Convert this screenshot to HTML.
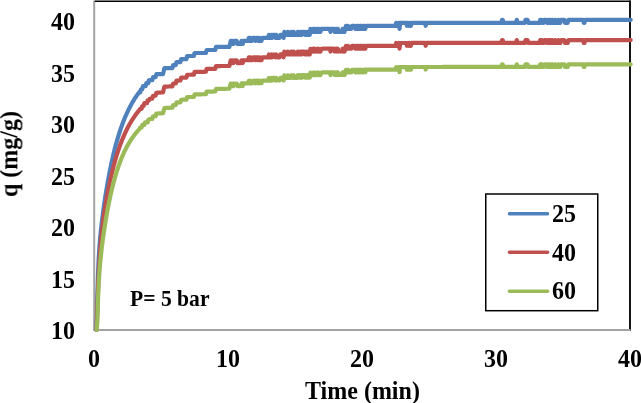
<!DOCTYPE html>
<html><head><meta charset="utf-8"><style>
html,body{margin:0;padding:0;background:#fff;}
body{width:641px;height:403px;position:relative;overflow:hidden;font-family:"Liberation Serif",serif;font-weight:bold;color:#000;}
.t{position:absolute;will-change:transform;transform:scaleY(1.05);transform-origin:0 70%;font-size:24px;line-height:24px;white-space:nowrap;}
.yl{position:absolute;will-change:transform;transform:scaleY(1.05);transform-origin:0 70%;right:566.5px;font-size:24px;line-height:24px;text-align:right;}
.xl{position:absolute;will-change:transform;transform:scaleY(1.05);transform-origin:0 70%;width:60px;margin-left:-30px;text-align:center;font-size:24px;line-height:24px;top:346.5px;}
svg{position:absolute;left:0;top:0;}
</style></head><body>
<svg width="641" height="403" viewBox="0 0 641 403">
<line x1="94.2" y1="0.5" x2="94.2" y2="330.5" stroke="#a3a3a3" stroke-width="2"/>
<line x1="94.8" y1="1.25" x2="630.5" y2="1.25" stroke="#000" stroke-width="1.5"/>
<line x1="630" y1="0.5" x2="630" y2="330.9" stroke="#151515" stroke-width="2"/>
<line x1="93.2" y1="329.9" x2="630.5" y2="329.9" stroke="#a3a3a3" stroke-width="2"/>
<g fill="none" stroke-width="4.2" stroke-linecap="round" stroke-linejoin="round">
<polyline stroke="#4F81BD" points="96.51,329.90 97.37,295.10 98.04,272.94 98.71,258.14 99.38,247.44 100.05,239.06 100.72,232.05 101.39,225.86 102.06,220.20 102.73,214.92 103.40,209.92 104.07,205.15 104.74,200.58 105.41,196.19 106.08,191.97 106.75,187.89 107.42,183.97 108.09,180.18 108.76,176.53 109.43,173.00 110.10,169.60 110.77,166.32 111.44,163.15 112.11,160.09 112.78,157.13 113.45,154.28 114.12,151.52 114.79,148.85 115.46,146.28 116.13,143.79 116.80,141.38 117.47,139.05 118.14,136.80 118.81,134.62 119.48,132.51 120.15,130.47 120.82,128.49 121.49,126.58 122.16,124.73 122.83,122.93 123.50,121.20 124.17,119.51 124.84,117.88 125.51,116.29 126.18,114.76 126.85,113.27 127.52,111.82 128.19,110.42 128.86,109.06 129.53,107.74 130.20,106.45 130.87,105.21 131.54,103.99 132.21,102.81 132.88,101.67 133.55,100.55 134.22,99.47 134.89,98.41 135.56,97.39 136.23,96.39 136.90,95.41 137.57,94.46 138.24,93.54 138.91,92.64 139.58,91.76 140.25,92.26 140.92,89.24 141.59,89.24 142.26,89.24 142.93,86.22 143.60,86.22 144.27,86.22 144.94,86.22 145.61,86.22 146.28,83.20 146.95,83.20 147.62,83.20 148.29,83.20 148.96,80.18 149.63,80.18 150.30,80.18 150.97,80.18 151.64,80.18 152.31,80.18 152.98,77.16 153.65,77.16 154.32,77.16 154.99,77.16 155.66,77.16 156.33,74.14 157.00,74.14 157.67,74.14 158.34,74.14 159.01,74.14 159.68,74.14 160.35,74.14 161.02,74.14 161.69,74.14 162.36,74.14 163.03,74.14 163.70,71.12 164.37,68.10 165.04,68.10 165.71,68.10 166.38,68.10 167.05,68.10 167.72,68.10 168.39,68.10 169.06,68.10 169.73,68.10 170.40,68.10 171.07,68.10 171.74,68.10 172.41,68.10 173.08,65.08 173.75,65.08 174.42,65.08 175.09,65.08 175.76,65.08 176.43,62.06 177.10,62.06 177.77,62.06 178.44,62.06 179.11,62.06 179.78,62.06 180.45,62.06 181.12,59.04 181.79,59.04 182.46,59.04 183.13,59.04 183.80,59.04 184.47,59.04 185.14,59.04 185.81,59.04 186.48,59.04 187.15,56.02 187.82,56.02 188.49,56.02 189.16,56.02 189.83,56.02 190.50,56.02 191.17,56.02 191.84,56.02 192.51,56.02 193.18,56.02 193.85,56.02 194.52,53.00 195.19,53.00 195.86,53.00 196.53,53.00 197.20,53.00 197.87,53.00 198.54,53.00 199.21,53.00 199.88,53.00 200.55,53.00 201.22,53.00 201.89,53.00 202.56,53.00 203.23,53.00 203.90,53.00 204.57,53.00 205.24,53.00 205.91,53.00 206.58,49.98 207.25,49.98 207.92,49.98 208.59,49.98 209.26,49.98 209.93,49.98 210.60,49.98 211.27,49.98 211.94,49.98 212.61,49.98 213.28,49.98 213.95,49.98 214.62,49.98 215.29,49.98 215.96,46.96 216.63,46.96 217.30,46.96 217.97,46.96 218.64,46.96 219.31,46.96 219.98,46.96 220.65,46.96 221.32,46.96 221.99,46.96 222.66,46.96 223.33,46.96 224.00,46.96 224.67,46.96 225.34,46.96 226.01,46.96 226.68,46.96 227.35,46.96 228.02,46.96 228.69,46.96 229.36,46.96 230.03,43.94 230.70,40.92 231.37,43.94 232.04,40.92 232.71,43.94 233.38,43.94 234.05,40.92 234.72,40.92 235.39,40.92 236.06,40.92 236.73,40.92 237.40,43.94 238.07,43.94 238.74,43.94 239.41,43.94 240.08,43.94 240.75,43.94 241.42,40.92 242.09,40.92 242.76,43.94 243.43,40.92 244.10,40.92 244.77,40.92 245.44,40.92 246.11,40.92 246.78,40.92 247.45,40.92 248.12,40.92 248.79,37.90 249.46,40.92 250.13,37.90 250.80,40.92 251.47,40.92 252.14,40.92 252.81,37.90 253.48,37.90 254.15,37.90 254.82,37.90 255.49,40.92 256.16,37.90 256.83,37.90 257.50,37.90 258.17,40.92 258.84,37.90 259.51,37.90 260.18,40.92 260.85,40.92 261.52,40.92 262.19,37.90 262.86,37.90 263.53,37.90 264.20,37.90 264.87,37.90 265.54,37.90 266.21,37.90 266.88,37.90 267.55,37.90 268.22,37.90 268.89,34.88 269.56,37.90 270.23,37.90 270.90,37.90 271.57,34.88 272.24,37.90 272.91,34.88 273.58,34.88 274.25,34.88 274.92,34.88 275.59,37.90 276.26,34.88 276.93,37.90 277.60,37.90 278.27,37.90 278.94,37.90 279.61,37.90 280.28,34.88 280.95,34.88 281.62,34.88 282.29,34.88 282.96,34.88 283.63,37.90 284.30,31.86 284.97,34.88 285.64,34.88 286.31,34.88 286.98,34.88 287.65,31.86 288.32,34.88 288.99,34.88 289.66,34.88 290.33,34.88 291.00,31.86 291.67,31.86 292.34,34.88 293.01,34.88 293.68,31.86 294.35,34.88 295.02,34.88 295.69,34.88 296.36,34.88 297.03,34.88 297.70,31.86 298.37,31.86 299.04,34.88 299.71,34.88 300.38,31.86 301.05,31.86 301.72,34.88 302.39,31.86 303.06,31.86 303.73,31.86 304.40,31.86 305.07,34.88 305.74,34.88 306.41,31.86 307.08,31.86 307.75,34.88 308.42,31.86 309.09,34.88 309.76,34.88 310.43,28.84 311.10,31.86 311.77,31.86 312.44,31.86 313.11,28.84 313.78,31.86 314.45,28.84 315.12,31.86 315.79,31.86 316.46,28.84 317.13,28.84 317.80,31.86 318.47,28.84 319.14,31.86 319.81,31.86 320.48,31.86 321.15,28.84 321.82,28.84 322.49,28.84 323.16,28.84 323.83,28.84 324.50,28.84 325.17,28.84 325.84,28.84 326.51,28.84 327.18,28.84 327.85,28.84 328.52,28.84 329.19,28.84 329.86,28.84 330.53,31.86 331.20,28.84 331.87,28.84 332.54,28.84 333.21,28.84 333.88,28.84 334.55,31.86 335.22,31.86 335.89,28.84 336.56,28.84 337.23,31.86 337.90,28.84 338.57,31.86 339.24,31.86 339.91,31.86 340.58,31.86 341.25,31.86 341.92,31.86 342.59,28.84 343.26,31.86 343.93,28.84 344.60,31.86 345.27,28.84 345.94,25.82 346.61,28.84 347.28,28.84 347.95,25.82 348.62,28.84 349.29,28.84 349.96,28.84 350.63,28.84 351.30,28.84 351.97,25.82 352.64,25.82 353.31,25.82 353.98,25.82 354.65,25.82 355.32,28.84 355.99,28.84 356.66,25.82 357.33,28.84 358.00,25.82 358.67,28.84 359.34,28.84 360.01,25.82 360.68,28.84 361.35,25.82 362.02,28.84 362.69,28.84 363.36,25.82 364.03,25.82 364.70,25.82 365.37,28.84 366.04,25.82 366.71,25.82 367.38,25.82 368.05,25.82 368.72,25.82 369.39,25.82 370.06,25.82 370.73,25.82 371.40,25.82 372.07,25.82 372.74,25.82 373.41,25.82 374.08,25.82 374.75,25.82 375.42,25.82 376.09,25.82 376.76,25.82 377.43,25.82 378.10,25.82 378.77,25.82 379.44,25.82 380.11,25.82 380.78,25.82 381.45,25.82 382.12,25.82 382.79,25.82 383.46,25.82 384.13,25.82 384.80,25.82 385.47,25.82 386.14,25.82 386.81,25.82 387.48,25.82 388.15,25.82 388.82,25.82 389.49,25.82 390.16,25.82 390.83,25.82 391.50,25.82 392.17,25.82 392.84,25.82 393.51,25.82 394.18,25.82 394.85,25.82 395.52,25.82 396.19,22.80 396.86,25.82 397.53,25.82 398.20,25.82 398.87,22.80 399.54,28.84 400.21,22.80 400.88,22.80 401.55,22.80 402.22,22.80 402.89,22.80 403.56,22.80 404.23,22.80 404.90,22.80 405.57,22.80 406.24,22.80 406.91,25.82 407.58,22.80 408.25,22.80 408.92,25.82 409.59,22.80 410.26,25.82 410.93,25.82 411.60,22.80 412.27,22.80 412.94,22.80 413.61,22.80 414.28,22.80 414.95,22.80 415.62,22.80 416.29,22.80 416.96,22.80 417.63,22.80 418.30,22.80 418.97,22.80 419.64,22.80 420.31,22.80 420.98,22.80 421.65,22.80 422.32,22.80 422.99,22.80 423.66,22.80 424.33,22.80 425.00,22.80 425.67,25.82 426.34,22.80 427.01,22.80 427.68,22.80 428.35,22.80 429.02,22.80 429.69,22.80 430.36,22.80 431.03,22.80 431.70,22.80 432.37,22.80 433.04,22.80 433.71,22.80 434.38,22.80 435.05,22.80 435.72,22.80 436.39,22.80 437.06,22.80 437.73,22.80 438.40,22.80 439.07,22.80 439.74,22.80 440.41,22.80 441.08,22.80 441.75,22.80 442.42,22.80 443.09,22.80 443.76,22.80 444.43,22.80 445.10,22.80 445.77,22.80 446.44,22.80 447.11,22.80 447.78,22.80 448.45,22.80 449.12,22.80 449.79,22.80 450.46,22.80 451.13,22.80 451.80,22.80 452.47,22.80 453.14,22.80 453.81,22.80 454.48,22.80 455.15,22.80 455.82,22.80 456.49,22.80 457.16,22.80 457.83,22.80 458.50,22.80 459.17,22.80 459.84,22.80 460.51,22.80 461.18,22.80 461.85,22.80 462.52,22.80 463.19,22.80 463.86,22.80 464.53,22.80 465.20,22.80 465.87,22.80 466.54,22.80 467.21,22.80 467.88,22.80 468.55,22.80 469.22,22.80 469.89,22.80 470.56,22.80 471.23,22.80 471.90,22.80 472.57,22.80 473.24,22.80 473.91,22.80 474.58,22.80 475.25,22.80 475.92,22.80 476.59,22.80 477.26,22.80 477.93,22.80 478.60,22.80 479.27,22.80 479.94,22.80 480.61,22.80 481.28,22.80 481.95,22.80 482.62,22.80 483.29,22.80 483.96,22.80 484.63,22.80 485.30,22.80 485.97,22.80 486.64,22.80 487.31,22.80 487.98,22.80 488.65,22.80 489.32,22.80 489.99,22.80 490.66,22.80 491.33,22.80 492.00,22.80 492.67,22.80 493.34,22.80 494.01,22.80 494.68,22.80 495.35,22.80 496.02,22.80 496.69,22.80 497.36,22.80 498.03,22.80 498.70,22.80 499.37,22.80 500.04,22.80 500.71,22.80 501.38,22.80 502.05,19.78 502.72,19.78 503.39,22.80 504.06,22.80 504.73,22.80 505.40,22.80 506.07,22.80 506.74,22.80 507.41,22.80 508.08,22.80 508.75,22.80 509.42,22.80 510.09,22.80 510.76,22.80 511.43,22.80 512.10,22.80 512.77,22.80 513.44,22.80 514.11,22.80 514.78,22.80 515.45,22.80 516.12,22.80 516.79,19.78 517.46,22.80 518.13,22.80 518.80,22.80 519.47,22.80 520.14,22.80 520.81,22.80 521.48,22.80 522.15,22.80 522.82,22.80 523.49,22.80 524.16,22.80 524.83,22.80 525.50,19.78 526.17,19.78 526.84,19.78 527.51,19.78 528.18,22.80 528.85,22.80 529.52,22.80 530.19,22.80 530.86,22.80 531.53,22.80 532.20,22.80 532.87,22.80 533.54,22.80 534.21,22.80 534.88,22.80 535.55,22.80 536.22,22.80 536.89,22.80 537.56,22.80 538.23,22.80 538.90,22.80 539.57,22.80 540.24,19.78 540.91,22.80 541.58,19.78 542.25,22.80 542.92,22.80 543.59,22.80 544.26,19.78 544.93,19.78 545.60,19.78 546.27,19.78 546.94,22.80 547.61,22.80 548.28,19.78 548.95,22.80 549.62,22.80 550.29,19.78 550.96,22.80 551.63,22.80 552.30,19.78 552.97,22.80 553.64,22.80 554.31,22.80 554.98,19.78 555.65,22.80 556.32,22.80 556.99,22.80 557.66,22.80 558.33,19.78 559.00,22.80 559.67,22.80 560.34,22.80 561.01,19.78 561.68,19.78 562.35,19.78 563.02,19.78 563.69,19.78 564.36,19.78 565.03,22.80 565.70,22.80 566.37,22.80 567.04,22.80 567.71,22.80 568.38,19.78 569.05,19.78 569.72,19.78 570.39,19.78 571.06,19.78 571.73,19.78 572.40,19.78 573.07,19.78 573.74,19.78 574.41,19.78 575.08,19.78 575.75,19.78 576.42,19.78 577.09,19.78 577.76,19.78 578.43,19.78 579.10,19.78 579.77,19.78 580.44,19.78 581.11,19.78 581.78,19.78 582.45,19.78 583.12,19.78 583.79,22.80 584.46,22.80 585.13,19.78 585.80,19.78 586.47,19.78 587.14,19.78 587.81,19.78 588.48,19.78 589.15,19.78 589.82,19.78 590.49,19.78 591.16,19.78 591.83,19.78 592.50,19.78 593.17,19.78 593.84,19.78 594.51,19.78 595.18,19.78 595.85,19.78 596.52,19.78 597.19,19.78 597.86,19.78 598.53,19.78 599.20,19.78 599.87,19.78 600.54,19.78 601.21,19.78 601.88,19.78 602.55,19.78 603.22,19.78 603.89,19.78 604.56,19.78 605.23,19.78 605.90,19.78 606.57,19.78 607.24,19.78 607.91,19.78 608.58,19.78 609.25,19.78 609.92,19.78 610.59,19.78 611.26,19.78 611.93,19.78 612.60,19.78 613.27,19.78 613.94,19.78 614.61,19.78 615.28,19.78 615.95,19.78 616.62,19.78 617.29,19.78 617.96,19.78 618.63,19.78 619.30,19.78 619.97,19.78 620.64,19.78 621.31,19.78 621.98,19.78 622.65,19.78 623.32,19.78 623.99,19.78 624.66,19.78 625.33,19.78 626.00,19.78 626.67,19.78 627.34,19.78 628.01,19.78 628.68,19.78 629.35,19.78 630.02,19.78 630.69,19.78"/>
<polyline stroke="#C0504D" points="96.56,329.90 97.37,307.91 98.04,288.98 98.71,274.06 99.38,262.03 100.05,252.11 100.72,243.73 101.39,236.49 102.06,230.11 102.73,224.37 103.40,219.13 104.07,214.30 104.74,209.78 105.41,205.53 106.08,201.51 106.75,197.67 107.42,194.01 108.09,190.51 108.76,187.14 109.43,183.90 110.10,180.78 110.77,177.78 111.44,174.88 112.11,172.09 112.78,169.39 113.45,166.79 114.12,164.27 114.79,161.84 115.46,159.48 116.13,157.21 116.80,155.01 117.47,152.89 118.14,150.83 118.81,148.85 119.48,146.92 120.15,145.06 120.82,143.26 121.49,141.51 122.16,139.82 122.83,138.19 123.50,136.60 124.17,135.07 124.84,133.58 125.51,132.14 126.18,130.74 126.85,129.38 127.52,128.07 128.19,126.79 128.86,125.55 129.53,124.35 130.20,123.18 130.87,122.05 131.54,120.95 132.21,119.87 132.88,118.83 133.55,117.82 134.22,116.83 134.89,115.87 135.56,114.93 136.23,114.02 136.90,113.13 137.57,112.26 138.24,111.42 138.91,110.59 139.58,109.78 140.25,108.77 140.92,108.78 141.59,108.80 142.26,105.98 142.93,105.99 143.60,106.00 144.27,103.18 144.94,103.18 145.61,103.18 146.28,103.18 146.95,103.17 147.62,100.34 148.29,100.33 148.96,100.32 149.63,98.73 150.30,98.70 150.97,98.68 151.64,98.65 152.31,98.61 152.98,95.77 153.65,95.74 154.32,95.70 154.99,95.66 155.66,95.63 156.33,92.78 157.00,92.74 157.67,92.70 158.34,92.66 159.01,92.62 159.68,92.58 160.35,92.54 161.02,92.50 161.69,92.47 162.36,92.43 163.03,92.39 163.70,89.54 164.37,86.70 165.04,86.66 165.71,86.63 166.38,86.59 167.05,86.56 167.72,86.53 168.39,86.50 169.06,86.47 169.73,86.44 170.40,86.42 171.07,86.39 171.74,86.37 172.41,86.34 173.08,83.51 173.75,83.49 174.42,83.47 175.09,83.45 175.76,83.43 176.43,80.60 177.10,80.58 177.77,80.56 178.44,80.55 179.11,80.53 179.78,80.52 180.45,80.51 181.12,77.68 181.79,77.67 182.46,77.66 183.13,77.65 183.80,77.63 184.47,77.62 185.14,77.61 185.81,77.60 186.48,77.59 187.15,74.77 187.82,74.76 188.49,74.75 189.16,74.75 189.83,74.74 190.50,74.73 191.17,74.72 191.84,74.71 192.51,74.71 193.18,74.70 193.85,74.69 194.52,71.87 195.19,71.87 195.86,71.86 196.53,71.85 197.20,71.85 197.87,71.84 198.54,71.83 199.21,71.83 199.88,71.82 200.55,71.81 201.22,71.81 201.89,71.80 202.56,71.80 203.23,71.79 203.90,71.78 204.57,71.78 205.24,71.77 205.91,71.77 206.58,68.95 207.25,68.94 207.92,68.94 208.59,68.93 209.26,68.92 209.93,68.92 210.60,68.91 211.27,68.91 211.94,68.90 212.61,68.90 213.28,68.89 213.95,68.89 214.62,68.88 215.29,68.88 215.96,66.06 216.63,66.05 217.30,66.05 217.97,66.04 218.64,66.04 219.31,66.03 219.98,66.03 220.65,66.03 221.32,66.02 221.99,66.02 222.66,66.01 223.33,66.01 224.00,66.00 224.67,66.00 225.34,66.00 226.01,65.99 226.68,65.99 227.35,65.98 228.02,65.98 228.69,65.97 229.36,65.97 230.03,63.15 230.70,60.33 231.37,63.14 232.04,60.32 232.71,63.13 233.38,63.13 234.05,60.31 234.72,60.31 235.39,60.30 236.06,60.30 236.73,60.29 237.40,63.11 238.07,63.10 238.74,63.10 239.41,63.10 240.08,63.09 240.75,63.09 241.42,60.27 242.09,60.27 242.76,63.08 243.43,60.26 244.10,60.26 244.77,60.25 245.44,60.25 246.11,60.25 246.78,60.24 247.45,60.24 248.12,60.24 248.79,57.41 249.46,60.23 250.13,57.41 250.80,60.22 251.47,60.22 252.14,60.22 252.81,57.40 253.48,57.39 254.15,57.39 254.82,57.39 255.49,60.20 256.16,57.38 256.83,57.38 257.50,57.38 258.17,60.19 258.84,57.37 259.51,57.37 260.18,60.18 260.85,60.18 261.52,60.18 262.19,57.36 262.86,57.35 263.53,57.35 264.20,57.35 264.87,57.35 265.54,57.34 266.21,57.34 266.88,57.34 267.55,57.34 268.22,57.33 268.89,54.51 269.56,57.33 270.23,57.33 270.90,57.32 271.57,54.50 272.24,57.32 272.91,54.50 273.58,54.49 274.25,54.49 274.92,54.49 275.59,57.31 276.26,54.49 276.93,57.30 277.60,57.30 278.27,57.30 278.94,57.30 279.61,57.29 280.28,54.47 280.95,54.47 281.62,54.47 282.29,54.47 282.96,54.46 283.63,57.28 284.30,51.64 284.97,54.46 285.64,54.46 286.31,54.45 286.98,54.45 287.65,51.63 288.32,54.45 288.99,54.45 289.66,54.44 290.33,54.44 291.00,51.62 291.67,51.62 292.34,54.44 293.01,54.43 293.68,51.61 294.35,54.43 295.02,54.43 295.69,54.43 296.36,54.43 297.03,54.42 297.70,51.60 298.37,51.60 299.04,54.42 299.71,54.42 300.38,51.60 301.05,51.59 301.72,54.41 302.39,51.59 303.06,51.59 303.73,51.59 304.40,51.59 305.07,54.40 305.74,54.40 306.41,51.58 307.08,51.58 307.75,54.40 308.42,51.58 309.09,54.39 309.76,54.39 310.43,48.75 311.10,51.57 311.77,51.57 312.44,51.57 313.11,48.74 313.78,51.56 314.45,48.74 315.12,51.56 315.79,51.56 316.46,48.74 317.13,48.74 317.80,51.56 318.47,48.73 319.14,51.55 319.81,51.55 320.48,51.55 321.15,48.73 321.82,48.73 322.49,48.73 323.16,48.72 323.83,48.72 324.50,48.72 325.17,48.72 325.84,48.72 326.51,48.72 327.18,48.72 327.85,48.71 328.52,48.71 329.19,48.71 329.86,48.71 330.53,51.53 331.20,48.71 331.87,48.71 332.54,48.71 333.21,48.71 333.88,48.70 334.55,51.52 335.22,51.52 335.89,48.70 336.56,48.70 337.23,51.52 337.90,48.70 338.57,51.52 339.24,51.52 339.91,51.51 340.58,51.51 341.25,51.51 341.92,51.51 342.59,48.69 343.26,51.51 343.93,48.69 344.60,51.51 345.27,48.69 345.94,45.86 346.61,48.68 347.28,48.68 347.95,45.86 348.62,48.68 349.29,48.68 349.96,48.68 350.63,48.68 351.30,48.68 351.97,45.85 352.64,45.85 353.31,45.85 353.98,45.85 354.65,45.85 355.32,48.67 355.99,48.67 356.66,45.85 357.33,48.67 358.00,45.85 358.67,48.67 359.34,48.67 360.01,45.84 360.68,48.66 361.35,45.84 362.02,48.66 362.69,48.66 363.36,45.84 364.03,45.84 364.70,45.84 365.37,48.66 366.04,45.84 366.71,45.84 367.38,45.83 368.05,45.83 368.72,45.83 369.39,45.83 370.06,45.83 370.73,45.83 371.40,45.83 372.07,45.83 372.74,45.83 373.41,45.83 374.08,45.83 374.75,45.83 375.42,45.83 376.09,45.83 376.76,45.82 377.43,45.82 378.10,45.82 378.77,45.82 379.44,45.82 380.11,45.82 380.78,45.82 381.45,45.82 382.12,45.82 382.79,45.82 383.46,45.82 384.13,45.82 384.80,45.82 385.47,45.82 386.14,45.81 386.81,45.81 387.48,45.81 388.15,45.81 388.82,45.81 389.49,45.81 390.16,45.81 390.83,45.81 391.50,45.81 392.17,45.81 392.84,45.81 393.51,45.81 394.18,45.81 394.85,45.81 395.52,45.81 396.19,42.98 396.86,45.81 397.53,45.80 398.20,45.80 398.87,42.98 399.54,48.62 400.21,42.98 400.88,42.98 401.55,42.98 402.22,42.98 402.89,42.98 403.56,42.98 404.23,42.98 404.90,42.98 405.57,42.98 406.24,42.98 406.91,45.80 407.58,42.98 408.25,42.97 408.92,45.80 409.59,42.97 410.26,45.79 410.93,45.79 411.60,42.97 412.27,42.97 412.94,42.97 413.61,42.97 414.28,42.97 414.95,42.97 415.62,42.97 416.29,42.97 416.96,42.97 417.63,42.97 418.30,42.97 418.97,42.97 419.64,42.97 420.31,42.97 420.98,42.97 421.65,42.97 422.32,42.97 422.99,42.96 423.66,42.96 424.33,42.96 425.00,42.96 425.67,45.78 426.34,42.96 427.01,42.96 427.68,42.96 428.35,42.96 429.02,42.96 429.69,42.96 430.36,42.96 431.03,42.96 431.70,42.96 432.37,42.96 433.04,42.96 433.71,42.96 434.38,42.96 435.05,42.96 435.72,42.96 436.39,42.96 437.06,42.96 437.73,42.96 438.40,42.96 439.07,42.96 439.74,42.96 440.41,42.95 441.08,42.95 441.75,42.95 442.42,42.95 443.09,42.95 443.76,42.95 444.43,42.95 445.10,42.95 445.77,42.95 446.44,42.95 447.11,42.95 447.78,42.95 448.45,42.95 449.12,42.95 449.79,42.95 450.46,42.95 451.13,42.95 451.80,42.95 452.47,42.95 453.14,42.95 453.81,42.95 454.48,42.95 455.15,42.95 455.82,42.95 456.49,42.95 457.16,42.95 457.83,42.95 458.50,42.95 459.17,42.95 459.84,42.95 460.51,42.95 461.18,42.95 461.85,42.94 462.52,42.94 463.19,42.94 463.86,42.94 464.53,42.94 465.20,42.94 465.87,42.94 466.54,42.94 467.21,42.94 467.88,42.94 468.55,42.94 469.22,42.94 469.89,42.94 470.56,42.94 471.23,42.94 471.90,42.94 472.57,42.94 473.24,42.94 473.91,42.94 474.58,42.94 475.25,42.94 475.92,42.94 476.59,42.94 477.26,42.94 477.93,42.94 478.60,42.94 479.27,42.94 479.94,42.94 480.61,42.94 481.28,42.94 481.95,42.94 482.62,42.94 483.29,42.94 483.96,42.94 484.63,42.94 485.30,42.94 485.97,42.94 486.64,42.94 487.31,42.94 487.98,42.94 488.65,42.94 489.32,42.94 489.99,42.94 490.66,42.94 491.33,42.93 492.00,42.93 492.67,42.93 493.34,42.93 494.01,42.93 494.68,42.93 495.35,42.93 496.02,42.93 496.69,42.93 497.36,42.93 498.03,42.93 498.70,42.93 499.37,42.93 500.04,42.93 500.71,42.93 501.38,42.93 502.05,40.11 502.72,40.11 503.39,42.93 504.06,42.93 504.73,42.93 505.40,42.93 506.07,42.93 506.74,42.93 507.41,42.93 508.08,42.93 508.75,42.93 509.42,42.93 510.09,42.93 510.76,42.93 511.43,42.93 512.10,42.93 512.77,42.93 513.44,42.93 514.11,42.93 514.78,42.93 515.45,42.93 516.12,42.93 516.79,40.11 517.46,42.93 518.13,42.93 518.80,42.93 519.47,42.93 520.14,42.93 520.81,42.93 521.48,42.93 522.15,42.93 522.82,42.93 523.49,42.93 524.16,42.93 524.83,42.93 525.50,40.10 526.17,40.10 526.84,40.10 527.51,40.10 528.18,42.93 528.85,42.93 529.52,42.93 530.19,42.93 530.86,42.93 531.53,42.93 532.20,42.93 532.87,42.93 533.54,42.93 534.21,42.93 534.88,42.93 535.55,42.92 536.22,42.92 536.89,42.92 537.56,42.92 538.23,42.92 538.90,42.92 539.57,42.92 540.24,40.10 540.91,42.92 541.58,40.10 542.25,42.92 542.92,42.92 543.59,42.92 544.26,40.10 544.93,40.10 545.60,40.10 546.27,40.10 546.94,42.92 547.61,42.92 548.28,40.10 548.95,42.92 549.62,42.92 550.29,40.10 550.96,42.92 551.63,42.92 552.30,40.10 552.97,42.92 553.64,42.92 554.31,42.92 554.98,40.10 555.65,42.92 556.32,42.92 556.99,42.92 557.66,42.92 558.33,40.10 559.00,42.92 559.67,42.92 560.34,42.92 561.01,40.10 561.68,40.10 562.35,40.10 563.02,40.10 563.69,40.10 564.36,40.10 565.03,42.92 565.70,42.92 566.37,42.92 567.04,42.92 567.71,42.92 568.38,40.10 569.05,40.10 569.72,40.10 570.39,40.10 571.06,40.10 571.73,40.10 572.40,40.10 573.07,40.10 573.74,40.10 574.41,40.10 575.08,40.10 575.75,40.10 576.42,40.10 577.09,40.10 577.76,40.10 578.43,40.10 579.10,40.10 579.77,40.10 580.44,40.10 581.11,40.10 581.78,40.10 582.45,40.10 583.12,40.10 583.79,42.92 584.46,42.92 585.13,40.10 585.80,40.10 586.47,40.10 587.14,40.10 587.81,40.10 588.48,40.10 589.15,40.10 589.82,40.10 590.49,40.10 591.16,40.10 591.83,40.10 592.50,40.10 593.17,40.10 593.84,40.10 594.51,40.10 595.18,40.10 595.85,40.10 596.52,40.10 597.19,40.10 597.86,40.10 598.53,40.10 599.20,40.10 599.87,40.09 600.54,40.09 601.21,40.09 601.88,40.09 602.55,40.09 603.22,40.09 603.89,40.09 604.56,40.09 605.23,40.09 605.90,40.09 606.57,40.09 607.24,40.09 607.91,40.09 608.58,40.09 609.25,40.09 609.92,40.09 610.59,40.09 611.26,40.09 611.93,40.09 612.60,40.09 613.27,40.09 613.94,40.09 614.61,40.09 615.28,40.09 615.95,40.09 616.62,40.09 617.29,40.09 617.96,40.09 618.63,40.09 619.30,40.09 619.97,40.09 620.64,40.09 621.31,40.09 621.98,40.09 622.65,40.09 623.32,40.09 623.99,40.09 624.66,40.09 625.33,40.09 626.00,40.09 626.67,40.09 627.34,40.09 628.01,40.09 628.68,40.09 629.35,40.09 630.02,40.09 630.69,40.09"/>
<polyline stroke="#9BBB59" points="96.67,329.90 97.37,321.29 98.04,299.07 98.71,283.96 99.38,272.97 100.05,264.38 100.72,257.26 101.39,251.06 102.06,245.45 102.73,240.27 103.40,235.41 104.07,230.80 104.74,226.41 105.41,222.21 106.08,218.18 106.75,214.32 107.42,210.62 108.09,207.05 108.76,203.63 109.43,200.34 110.10,197.17 110.77,194.13 111.44,191.20 112.11,188.38 112.78,185.66 113.45,183.05 114.12,180.54 114.79,178.12 115.46,175.78 116.13,173.54 116.80,171.37 117.47,169.29 118.14,167.28 118.81,165.34 119.48,163.47 120.15,161.67 120.82,159.93 121.49,158.26 122.16,156.64 122.83,155.08 123.50,153.57 124.17,152.12 124.84,150.71 125.51,149.35 126.18,148.04 126.85,146.77 127.52,145.55 128.19,144.36 128.86,143.21 129.53,142.10 130.20,141.02 130.87,139.98 131.54,138.97 132.21,137.99 132.88,137.04 133.55,136.11 134.22,135.22 134.89,134.34 135.56,133.50 136.23,132.67 136.90,131.87 137.57,131.09 138.24,130.32 138.91,129.58 139.58,128.85 140.25,127.50 140.92,127.51 141.59,127.53 142.26,124.95 142.93,124.96 143.60,124.97 144.27,124.97 144.94,122.39 145.61,122.39 146.28,122.38 146.95,122.38 147.62,122.37 148.29,119.77 148.96,119.76 149.63,119.00 150.30,118.98 150.97,118.96 151.64,118.94 152.31,118.91 152.98,116.32 153.65,116.29 154.32,116.26 154.99,116.23 155.66,116.20 156.33,113.60 157.00,113.56 157.67,113.53 158.34,113.49 159.01,113.46 159.68,113.42 160.35,113.38 161.02,113.35 161.69,113.31 162.36,113.27 163.03,113.24 163.70,110.64 164.37,108.04 165.04,108.00 165.71,107.97 166.38,107.94 167.05,107.90 167.72,107.87 168.39,107.84 169.06,107.81 169.73,107.79 170.40,107.76 171.07,107.73 171.74,107.71 172.41,107.69 173.08,105.10 173.75,105.07 174.42,105.05 175.09,105.03 175.76,105.01 176.43,102.43 177.10,102.41 177.77,102.39 178.44,102.38 179.11,102.36 179.78,102.35 180.45,102.33 181.12,99.75 181.79,99.74 182.46,99.72 183.13,99.71 183.80,99.70 184.47,99.68 185.14,99.67 185.81,99.66 186.48,99.65 187.15,97.07 187.82,97.06 188.49,97.05 189.16,97.04 189.83,97.02 190.50,97.01 191.17,97.00 191.84,96.99 192.51,96.98 193.18,96.97 193.85,96.96 194.52,94.38 195.19,94.37 195.86,94.36 196.53,94.35 197.20,94.34 197.87,94.33 198.54,94.32 199.21,94.31 199.88,94.30 200.55,94.29 201.22,94.28 201.89,94.27 202.56,94.26 203.23,94.25 203.90,94.24 204.57,94.23 205.24,94.22 205.91,94.21 206.58,91.63 207.25,91.62 207.92,91.61 208.59,91.60 209.26,91.59 209.93,91.58 210.60,91.57 211.27,91.56 211.94,91.55 212.61,91.54 213.28,91.53 213.95,91.52 214.62,91.51 215.29,91.50 215.96,88.92 216.63,88.91 217.30,88.90 217.97,88.89 218.64,88.88 219.31,88.87 219.98,88.86 220.65,88.85 221.32,88.84 221.99,88.83 222.66,88.83 223.33,88.82 224.00,88.81 224.67,88.80 225.34,88.79 226.01,88.78 226.68,88.77 227.35,88.76 228.02,88.75 228.69,88.74 229.36,88.74 230.03,86.15 230.70,83.57 231.37,86.14 232.04,83.55 232.71,86.12 233.38,86.11 234.05,83.53 234.72,83.52 235.39,83.51 236.06,83.50 236.73,83.49 237.40,86.06 238.07,86.05 238.74,86.04 239.41,86.04 240.08,86.03 240.75,86.02 241.42,83.44 242.09,83.43 242.76,86.00 243.43,83.41 244.10,83.41 244.77,83.40 245.44,83.39 246.11,83.38 246.78,83.38 247.45,83.37 248.12,83.36 248.79,80.78 249.46,83.35 250.13,80.76 250.80,83.33 251.47,83.32 252.14,83.32 252.81,80.73 253.48,80.73 254.15,80.72 254.82,80.71 255.49,83.28 256.16,80.70 256.83,80.69 257.50,80.68 258.17,83.26 258.84,80.67 259.51,80.66 260.18,83.24 260.85,83.23 261.52,83.22 262.19,80.64 262.86,80.63 263.53,80.63 264.20,80.62 264.87,80.61 265.54,80.61 266.21,80.60 266.88,80.59 267.55,80.59 268.22,80.58 268.89,78.00 269.56,80.57 270.23,80.56 270.90,80.56 271.57,77.97 272.24,80.55 272.91,77.96 273.58,77.96 274.25,77.95 274.92,77.95 275.59,80.52 276.26,77.93 276.93,80.51 277.60,80.50 278.27,80.50 278.94,80.49 279.61,80.49 280.28,77.90 280.95,77.90 281.62,77.89 282.29,77.89 282.96,77.88 283.63,80.46 284.30,75.29 284.97,77.87 285.64,77.86 286.31,77.86 286.98,77.85 287.65,75.27 288.32,77.84 288.99,77.84 289.66,77.83 290.33,77.83 291.00,75.24 291.67,75.24 292.34,77.81 293.01,77.81 293.68,75.22 294.35,77.80 295.02,77.80 295.69,77.79 296.36,77.79 297.03,77.78 297.70,75.20 298.37,75.19 299.04,77.77 299.71,77.76 300.38,75.18 301.05,75.18 301.72,77.75 302.39,75.17 303.06,75.16 303.73,75.16 304.40,75.15 305.07,77.73 305.74,77.73 306.41,75.14 307.08,75.14 307.75,77.72 308.42,75.13 309.09,77.71 309.76,77.71 310.43,72.54 311.10,75.12 311.77,75.11 312.44,75.11 313.11,72.52 313.78,75.10 314.45,72.52 315.12,75.09 315.79,75.09 316.46,72.50 317.13,72.50 317.80,75.08 318.47,72.49 319.14,75.07 319.81,75.07 320.48,75.07 321.15,72.48 321.82,72.48 322.49,72.47 323.16,72.47 323.83,72.47 324.50,72.46 325.17,72.46 325.84,72.46 326.51,72.45 327.18,72.45 327.85,72.45 328.52,72.44 329.19,72.44 329.86,72.44 330.53,75.02 331.20,72.43 331.87,72.43 332.54,72.43 333.21,72.42 333.88,72.42 334.55,75.00 335.22,75.00 335.89,72.41 336.56,72.41 337.23,74.99 337.90,72.40 338.57,74.98 339.24,74.98 339.91,74.98 340.58,74.98 341.25,74.97 341.92,74.97 342.59,72.38 343.26,74.96 343.93,72.38 344.60,74.96 345.27,72.37 345.94,69.79 346.61,72.37 347.28,72.37 347.95,69.78 348.62,72.36 349.29,72.36 349.96,72.36 350.63,72.35 351.30,72.35 351.97,69.77 352.64,69.76 353.31,69.76 353.98,69.76 354.65,69.76 355.32,72.34 355.99,72.33 356.66,69.75 357.33,72.33 358.00,69.74 358.67,72.33 359.34,72.32 360.01,69.74 360.68,72.32 361.35,69.73 362.02,72.32 362.69,72.31 363.36,69.73 364.03,69.72 364.70,69.72 365.37,72.30 366.04,69.72 366.71,69.72 367.38,69.71 368.05,69.71 368.72,69.71 369.39,69.71 370.06,69.71 370.73,69.70 371.40,69.70 372.07,69.70 372.74,69.70 373.41,69.70 374.08,69.69 374.75,69.69 375.42,69.69 376.09,69.69 376.76,69.69 377.43,69.69 378.10,69.68 378.77,69.68 379.44,69.68 380.11,69.68 380.78,69.68 381.45,69.67 382.12,69.67 382.79,69.67 383.46,69.67 384.13,69.67 384.80,69.67 385.47,69.66 386.14,69.66 386.81,69.66 387.48,69.66 388.15,69.66 388.82,69.66 389.49,69.66 390.16,69.65 390.83,69.65 391.50,69.65 392.17,69.65 392.84,69.65 393.51,69.65 394.18,69.64 394.85,69.64 395.52,69.64 396.19,67.05 396.86,69.64 397.53,69.64 398.20,69.64 398.87,67.05 399.54,72.22 400.21,67.05 400.88,67.04 401.55,67.04 402.22,67.04 402.89,67.04 403.56,67.04 404.23,67.04 404.90,67.04 405.57,67.04 406.24,67.03 406.91,69.62 407.58,67.03 408.25,67.03 408.92,69.61 409.59,67.03 410.26,69.61 410.93,69.61 411.60,67.02 412.27,67.02 412.94,67.02 413.61,67.02 414.28,67.02 414.95,67.02 415.62,67.02 416.29,67.01 416.96,67.01 417.63,67.01 418.30,67.01 418.97,67.01 419.64,67.01 420.31,67.01 420.98,67.01 421.65,67.01 422.32,67.00 422.99,67.00 423.66,67.00 424.33,67.00 425.00,67.00 425.67,69.58 426.34,67.00 427.01,67.00 427.68,67.00 428.35,66.99 429.02,66.99 429.69,66.99 430.36,66.99 431.03,66.99 431.70,66.99 432.37,66.99 433.04,66.99 433.71,66.99 434.38,66.99 435.05,66.98 435.72,66.98 436.39,66.98 437.06,66.98 437.73,66.98 438.40,66.98 439.07,66.98 439.74,66.98 440.41,66.98 441.08,66.98 441.75,66.98 442.42,66.97 443.09,66.97 443.76,66.97 444.43,66.97 445.10,66.97 445.77,66.97 446.44,66.97 447.11,66.97 447.78,66.97 448.45,66.97 449.12,66.97 449.79,66.97 450.46,66.96 451.13,66.96 451.80,66.96 452.47,66.96 453.14,66.96 453.81,66.96 454.48,66.96 455.15,66.96 455.82,66.96 456.49,66.96 457.16,66.96 457.83,66.96 458.50,66.95 459.17,66.95 459.84,66.95 460.51,66.95 461.18,66.95 461.85,66.95 462.52,66.95 463.19,66.95 463.86,66.95 464.53,66.95 465.20,66.95 465.87,66.95 466.54,66.95 467.21,66.95 467.88,66.94 468.55,66.94 469.22,66.94 469.89,66.94 470.56,66.94 471.23,66.94 471.90,66.94 472.57,66.94 473.24,66.94 473.91,66.94 474.58,66.94 475.25,66.94 475.92,66.94 476.59,66.94 477.26,66.94 477.93,66.94 478.60,66.93 479.27,66.93 479.94,66.93 480.61,66.93 481.28,66.93 481.95,66.93 482.62,66.93 483.29,66.93 483.96,66.93 484.63,66.93 485.30,66.93 485.97,66.93 486.64,66.93 487.31,66.93 487.98,66.93 488.65,66.93 489.32,66.93 489.99,66.93 490.66,66.92 491.33,66.92 492.00,66.92 492.67,66.92 493.34,66.92 494.01,66.92 494.68,66.92 495.35,66.92 496.02,66.92 496.69,66.92 497.36,66.92 498.03,66.92 498.70,66.92 499.37,66.92 500.04,66.92 500.71,66.92 501.38,66.92 502.05,64.33 502.72,64.33 503.39,66.92 504.06,66.91 504.73,66.91 505.40,66.91 506.07,66.91 506.74,66.91 507.41,66.91 508.08,66.91 508.75,66.91 509.42,66.91 510.09,66.91 510.76,66.91 511.43,66.91 512.10,66.91 512.77,66.91 513.44,66.91 514.11,66.91 514.78,66.91 515.45,66.91 516.12,66.91 516.79,64.32 517.46,66.91 518.13,66.91 518.80,66.91 519.47,66.91 520.14,66.90 520.81,66.90 521.48,66.90 522.15,66.90 522.82,66.90 523.49,66.90 524.16,66.90 524.83,66.90 525.50,64.32 526.17,64.32 526.84,64.32 527.51,64.31 528.18,66.90 528.85,66.90 529.52,66.90 530.19,66.90 530.86,66.90 531.53,66.90 532.20,66.90 532.87,66.90 533.54,66.90 534.21,66.90 534.88,66.90 535.55,66.90 536.22,66.90 536.89,66.90 537.56,66.90 538.23,66.90 538.90,66.90 539.57,66.90 540.24,64.31 540.91,66.89 541.58,64.31 542.25,66.89 542.92,66.89 543.59,66.89 544.26,64.31 544.93,64.31 545.60,64.31 546.27,64.31 546.94,66.89 547.61,66.89 548.28,64.30 548.95,66.89 549.62,66.89 550.29,64.30 550.96,66.89 551.63,66.89 552.30,64.30 552.97,66.89 553.64,66.89 554.31,66.89 554.98,64.30 555.65,66.89 556.32,66.89 556.99,66.89 557.66,66.89 558.33,64.30 559.00,66.89 559.67,66.89 560.34,66.89 561.01,64.30 561.68,64.30 562.35,64.30 563.02,64.30 563.69,64.30 564.36,64.30 565.03,66.88 565.70,66.88 566.37,66.88 567.04,66.88 567.71,66.88 568.38,64.30 569.05,64.30 569.72,64.30 570.39,64.30 571.06,64.30 571.73,64.30 572.40,64.30 573.07,64.30 573.74,64.30 574.41,64.30 575.08,64.30 575.75,64.29 576.42,64.29 577.09,64.29 577.76,64.29 578.43,64.29 579.10,64.29 579.77,64.29 580.44,64.29 581.11,64.29 581.78,64.29 582.45,64.29 583.12,64.29 583.79,66.88 584.46,66.88 585.13,64.29 585.80,64.29 586.47,64.29 587.14,64.29 587.81,64.29 588.48,64.29 589.15,64.29 589.82,64.29 590.49,64.29 591.16,64.29 591.83,64.29 592.50,64.29 593.17,64.29 593.84,64.29 594.51,64.29 595.18,64.29 595.85,64.29 596.52,64.29 597.19,64.29 597.86,64.29 598.53,64.29 599.20,64.29 599.87,64.29 600.54,64.29 601.21,64.29 601.88,64.29 602.55,64.29 603.22,64.29 603.89,64.29 604.56,64.29 605.23,64.29 605.90,64.29 606.57,64.29 607.24,64.29 607.91,64.29 608.58,64.29 609.25,64.29 609.92,64.29 610.59,64.29 611.26,64.29 611.93,64.29 612.60,64.29 613.27,64.29 613.94,64.29 614.61,64.29 615.28,64.28 615.95,64.28 616.62,64.28 617.29,64.28 617.96,64.28 618.63,64.28 619.30,64.28 619.97,64.28 620.64,64.28 621.31,64.28 621.98,64.28 622.65,64.28 623.32,64.28 623.99,64.28 624.66,64.28 625.33,64.28 626.00,64.28 626.67,64.28 627.34,64.28 628.01,64.28 628.68,64.28 629.35,64.28 630.02,64.28 630.69,64.28"/>
</g>
<rect x="485.75" y="194" width="112" height="116.7" fill="#fff" stroke="#000" stroke-width="1.5"/>
<line x1="509.5" y1="213.8" x2="547.5" y2="213.8" stroke="#4F81BD" stroke-width="3.6" stroke-linecap="round"/>
<line x1="509.5" y1="252.3" x2="547.5" y2="252.3" stroke="#C0504D" stroke-width="3.6" stroke-linecap="round"/>
<line x1="509.5" y1="291.2" x2="547.5" y2="291.2" stroke="#9BBB59" stroke-width="3.6" stroke-linecap="round"/>
</svg>
<div class="yl" style="top:10px">40</div>
<div class="yl" style="top:61.5px">35</div>
<div class="yl" style="top:113px">30</div>
<div class="yl" style="top:164.5px">25</div>
<div class="yl" style="top:216px">20</div>
<div class="yl" style="top:267.5px">15</div>
<div class="yl" style="top:319px">10</div>
<div class="xl" style="left:94.3px">0</div>
<div class="xl" style="left:228.3px">10</div>
<div class="xl" style="left:362.3px">20</div>
<div class="xl" style="left:496.3px">30</div>
<div class="xl" style="left:630.3px">40</div>
<div class="t" style="left:305.2px;top:379px">Time (min)</div>
<div class="t" style="left:129.6px;top:288.4px;font-size:21.6px;line-height:22px">P= 5 bar</div>
<div class="t" style="left:551.6px;top:202px">25</div>
<div class="t" style="left:551.6px;top:241px">40</div>
<div class="t" style="left:551.6px;top:279px">60</div>
<div class="t" style="left:-33.5px;top:142.5px;width:84px;text-align:center;transform:rotate(-90deg) scaleY(1.05);transform-origin:50% 50%">q (mg/g)</div>
</body></html>
